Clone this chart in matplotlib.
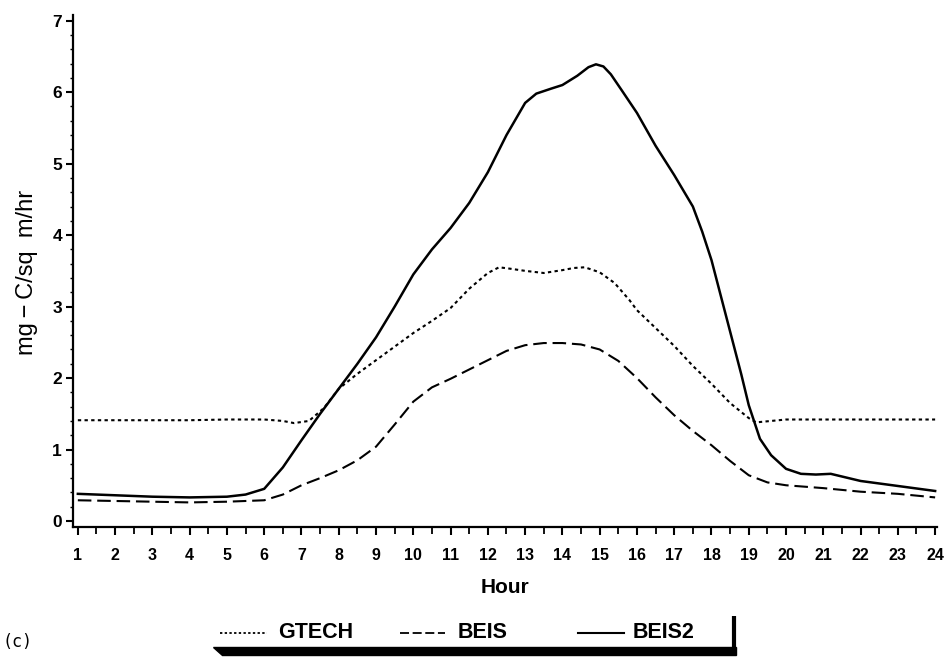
import matplotlib
matplotlib.use("Agg")
import matplotlib.pyplot as plt
from matplotlib.lines import Line2D
from matplotlib.patches import Polygon
import numpy as np

# ---- data ----
gtech_h = [1, 2, 3, 4, 5, 6, 6.5, 6.8, 7.2, 7.6, 8, 8.5, 9, 9.5, 10, 10.5, 11, 11.5,
           12, 12.3, 12.6, 13, 13.5, 14, 14.3, 14.6, 15, 15.4, 15.8, 16, 16.5, 17,
           17.5, 18, 18.5, 19, 19.2, 19.6, 20, 21, 22, 23, 24]
gtech_v = [1.41, 1.41, 1.41, 1.41, 1.42, 1.42, 1.40, 1.37, 1.40, 1.58, 1.85, 2.06, 2.25,
           2.44, 2.63, 2.80, 2.98, 3.25, 3.47, 3.55, 3.53, 3.50, 3.47, 3.51, 3.54, 3.55,
           3.48, 3.33, 3.09, 2.95, 2.70, 2.45, 2.17, 1.92, 1.65, 1.44, 1.38, 1.40, 1.42,
           1.42, 1.42, 1.42, 1.42]

beis_h = [1, 2, 3, 4, 5, 6, 6.5, 7, 7.5, 8, 8.5, 9, 9.5, 10, 10.5, 11, 11.5, 12, 12.5,
          13, 13.5, 14, 14.5, 15, 15.5, 16, 16.5, 17, 17.5, 18, 18.5, 19, 19.5, 20,
          21, 22, 23, 24]
beis_v = [0.29, 0.28, 0.27, 0.26, 0.27, 0.29, 0.37, 0.50, 0.60, 0.71, 0.85, 1.04, 1.35,
          1.67, 1.87, 1.99, 2.12, 2.25, 2.38, 2.46, 2.49, 2.49, 2.47, 2.40, 2.24, 2.00,
          1.73, 1.48, 1.26, 1.06, 0.84, 0.64, 0.54, 0.50, 0.46, 0.41, 0.38, 0.33]

beis2_h = [1, 2, 3, 4, 5, 5.5, 6, 6.5, 7, 7.5, 8, 8.5, 9, 9.5, 10, 10.5, 11, 11.5, 12,
           12.5, 13, 13.3, 13.7, 14, 14.4, 14.7, 14.9, 15.1, 15.3, 15.6, 16, 16.5, 17,
           17.5, 17.75, 18, 18.5, 18.8, 19, 19.3, 19.6, 20, 20.4, 20.8, 21.2, 22, 23, 24]
beis2_v = [0.38, 0.36, 0.34, 0.33, 0.34, 0.37, 0.45, 0.75, 1.13, 1.50, 1.85, 2.20, 2.57,
           3.00, 3.45, 3.80, 4.10, 4.45, 4.88, 5.40, 5.85, 5.98, 6.05, 6.10, 6.23, 6.35,
           6.39, 6.36, 6.25, 6.02, 5.71, 5.25, 4.84, 4.40, 4.05, 3.65, 2.65, 2.05, 1.62,
           1.15, 0.92, 0.73, 0.66, 0.65, 0.66, 0.56, 0.49, 0.42]

hours = list(range(1, 25))
yticks = list(range(0, 8))

W, H = 944, 657
fig = plt.figure(figsize=(W / 100, H / 100), dpi=100)
ax = fig.add_axes([73 / W, 1 - 527 / H, (937 - 73) / W, (527 - 15) / H])

lw = 1.5
ax.plot(gtech_h, gtech_v, color="black", lw=lw, linestyle=(0, (1.6, 1.6)))
ax.plot(beis_h, beis_v, color="black", lw=lw, linestyle=(0, (6.5, 2.8)))
ax.plot(beis2_h, beis2_v, color="black", lw=lw + 0.3, linestyle="-")

ax.set_xlim(0.87, 24.05)
ax.set_ylim(-0.084, 7.08)

for s in ["top", "right"]:
    ax.spines[s].set_visible(False)
for s in ["left", "bottom"]:
    ax.spines[s].set_linewidth(1.6)

ax.set_xticks(hours)
ax.set_xticks(np.arange(1.5, 24, 1.0), minor=True)
ax.set_xticklabels([str(h) for h in hours], fontsize=11.5, fontweight="bold",
                   family=["Liberation Sans Narrow", "Liberation Sans"])
ax.set_yticks(yticks)
ax.set_yticks(np.arange(0, 7.01, 0.2), minor=True)
ax.set_yticklabels([str(y) for y in yticks], fontsize=12.5, fontweight="bold",
                   family=["Liberation Sans"])
ax.tick_params(axis="x", which="major", direction="out", length=6, width=1.5, pad=9)
ax.tick_params(axis="x", which="minor", direction="out", length=5, width=1.3)
ax.tick_params(axis="y", which="major", direction="out", length=5, width=1.5, pad=3)
ax.tick_params(axis="y", which="minor", direction="out", length=2, width=1.0)

ax.set_xlabel("Hour", fontsize=15, fontweight="bold", family=["Liberation Sans"], labelpad=11)
fig.text(27 / W, 1 - 272 / H, "mg\u2009\u2212\u2009C/sq  m/hr", rotation=90, ha="center",
         va="center", fontsize=17, family=["Liberation Sans", "DejaVu Sans"])

# legend
ly = 1 - 633 / H
def fx(px):
    return px / W
fig.add_artist(Line2D([fx(220), fx(267)], [ly, ly], color="black", lw=1.3,
                      linestyle=(0, (1.3, 1.3))))
fig.add_artist(Line2D([fx(400), fx(445)], [ly, ly], color="black", lw=1.3,
                      linestyle=(0, (5, 2))))
fig.add_artist(Line2D([fx(578), fx(624)], [ly, ly], color="black", lw=1.5))
for px, lab in [(278, "GTECH"), (458, "BEIS"), (633, "BEIS2")]:
    fig.text(fx(px), ly, lab, ha="left", va="center", fontsize=15.5, fontweight="bold",
             family=["Liberation Sans"])
# shadow frame: bottom wedge and right bracket
poly = Polygon([(fx(213), 1 - 647 / H), (fx(736), 1 - 647 / H), (fx(736), 1 - 655 / H),
                (fx(222), 1 - 655 / H)], closed=True, color="black",
               transform=fig.transFigure)
fig.add_artist(poly)
fig.add_artist(Line2D([fx(734), fx(734)], [1 - 616 / H, 1 - 652 / H], color="black",
                      lw=3.0, solid_capstyle="butt"))

fig.text(2 / W, 1 - 642 / H, "(c)", ha="left", va="center", fontsize=12,
         family=["DejaVu Sans Mono"])

fig.savefig("out.png", dpi=100)
